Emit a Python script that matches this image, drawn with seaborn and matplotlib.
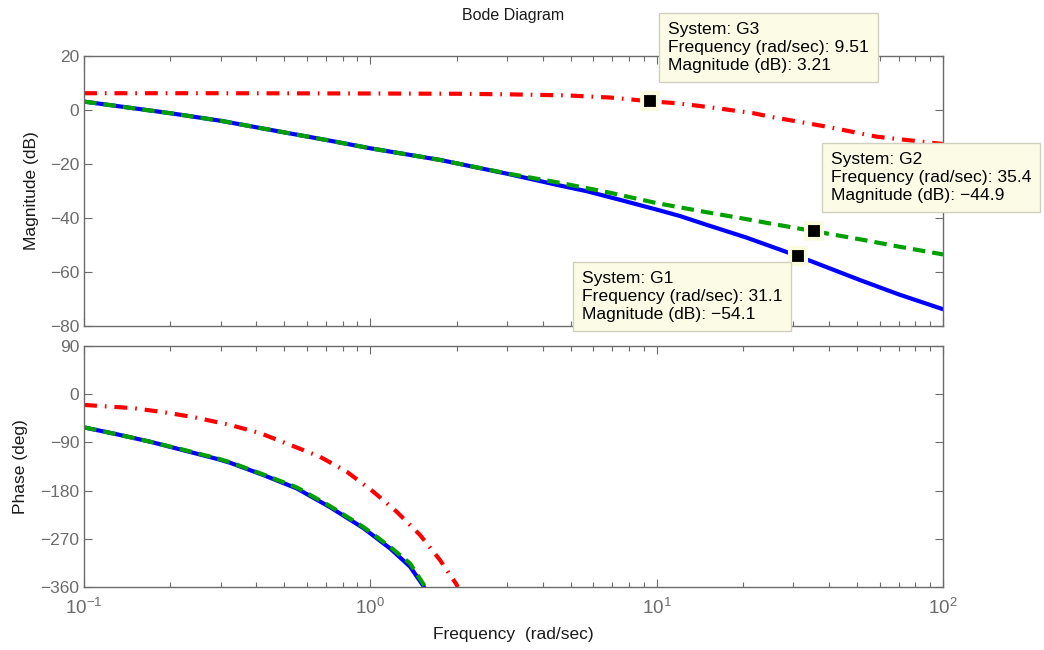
import numpy as np
import pandas as pd
import matplotlib
matplotlib.use("Agg")
import matplotlib.pyplot as plt
import matplotlib.ticker as mticker
import seaborn as sns

# Magnitude (dB)
g1_mag_w = [0.1, 0.2, 0.3, 0.5, 0.7, 1.0, 1.75, 3.0, 4.6, 5.7, 7.45, 10.0, 12.07, 15.0, 20.5, 31.1, 51.3, 70.0, 100.0]
g1_mag = [3.1, -1.2, -4.0, -8.3, -11.1, -14.2, -18.5, -23.6, -28.0, -30.1, -33.3, -36.9, -39.3, -42.6, -47.2, -54.1, -63.0, -68.3, -73.8]

g2_mag_w = [0.1, 0.2, 0.3, 0.5, 0.7, 1.0, 1.75, 3.0, 4.6, 6.9, 10.0, 15.0, 20.5, 24.2, 35.4, 51.3, 70.0, 100.0]
g2_mag = [3.1, -1.2, -4.0, -8.3, -11.1, -14.2, -18.5, -23.5, -27.0, -30.7, -34.5, -37.9, -40.4, -41.8, -44.9, -47.9, -50.6, -53.5]

g3_mag_w = [0.1, 0.3, 1.0, 2.0, 3.0, 4.85, 6.88, 9.51, 11.75, 15.37, 21.76, 24.9, 39.3, 58.7, 100.0]
g3_mag = [6.2, 6.2, 6.1, 6.0, 5.8, 5.4, 4.6, 3.21, 2.5, 1.0, -1.2, -2.5, -6.2, -9.9, -12.6]

# Phase (deg)
g1_ph_w = [0.1, 0.1307, 0.171, 0.2236, 0.2922, 0.3236, 0.423, 0.5535, 0.7231, 0.9454, 1.172, 1.376, 1.54]
g1_ph = [-62, -75, -89, -105, -121, -128, -151, -176, -211, -250, -288, -322, -360]

g2_ph_w = [0.1, 0.1307, 0.171, 0.2236, 0.2922, 0.3236, 0.423, 0.5535, 0.7231, 0.9454, 1.172, 1.376, 1.555]
g2_ph = [-62, -75, -89, -104, -120, -127, -150, -174, -209, -248, -285, -316, -360]

g3_ph_w = [0.1, 0.1495, 0.1903, 0.2423, 0.3236, 0.413, 0.5253, 0.6662, 0.8272, 1.0245, 1.2366, 1.4916, 1.752, 1.99, 2.02]
g3_ph = [-20.0, -26.2, -33.7, -43.0, -57.4, -72.9, -94.8, -116.7, -144.7, -182.2, -219.6, -263.0, -310.0, -353.5, -360]

# data tips: system, frequency, magnitude, shown texts
tip_names = ["G3", "G2", "G1"]
tip_w = [9.51, 35.4, 31.1]
tip_mag = [3.21, -44.9, -54.1]
tip_w_txt = ["9.51", "35.4", "31.1"]
tip_mag_txt = ["3.21", "\u221244.9", "\u221254.1"]

sns.set_style("ticks")
plt.rcParams["font.family"] = ["Liberation Sans", "DejaVu Sans"]
plt.rcParams["mathtext.fontset"] = "custom"
plt.rcParams["mathtext.rm"] = "Liberation Sans"
plt.rcParams["mathtext.it"] = "Liberation Sans"

grey = "#6b6b6b"
blue = "#0000ff"
green = "#00a000"
red = "#ff0000"
lw = 3.0
dash = (0, (3, 1.7))
dashdot = (0, (3.1, 1.9, 0.4, 1.9))

fig = plt.figure(figsize=(10.44, 6.5), dpi=100)
ax1 = fig.add_axes([0.0805, 0.4985, 0.8228, 0.4154])
ax2 = fig.add_axes([0.0805, 0.0969, 0.8228, 0.3708])

# magnitude
sns.lineplot(x=g1_mag_w, y=g1_mag, ax=ax1, color=blue, linewidth=lw)
sns.lineplot(x=g2_mag_w, y=g2_mag, ax=ax1, color=green, linewidth=lw, linestyle=dash)
sns.lineplot(x=g3_mag_w, y=g3_mag, ax=ax1, color=red, linewidth=lw, linestyle=dashdot)

# phase
sns.lineplot(x=g1_ph_w, y=g1_ph, ax=ax2, color=blue, linewidth=lw)
sns.lineplot(x=g2_ph_w, y=g2_ph, ax=ax2, color=green, linewidth=lw, linestyle=dash)
sns.lineplot(x=g3_ph_w, y=g3_ph, ax=ax2, color=red, linewidth=lw, linestyle=dashdot)

for ax in (ax1, ax2):
    ax.set_xscale("log")
    ax.set_xlim(0.1, 100)
    for s in ax.spines.values():
        s.set_visible(True)
        s.set_color(grey)
        s.set_linewidth(1.0)
    ax.tick_params(which="both", direction="in", top=True, right=True, colors=grey,
                   labelsize=12.5, labelcolor=grey)
    ax.tick_params(which="major", length=5.5, width=0.8)
    ax.tick_params(which="minor", length=3.5, width=0.8)
    ax.xaxis.set_minor_locator(mticker.LogLocator(base=10, subs=np.arange(2, 10)))
    ax.xaxis.set_minor_formatter(mticker.NullFormatter())
    ax.set_xlabel("")

ax1.set_ylim(-80, 20)
ax1.set_yticks([20, 0, -20, -40, -60, -80])
ax1.xaxis.set_major_formatter(mticker.NullFormatter())
ax1.set_ylabel("Magnitude (dB)", fontsize=12.5, color="#1a1a1a")
ax1.yaxis.set_label_coords(-0.052, 0.5)

ax2.set_ylim(-360, 90)
ax2.set_yticks([90, 0, -90, -180, -270, -360])
ax2.xaxis.set_major_locator(mticker.LogLocator(base=10))
ax2.xaxis.set_major_formatter(mticker.LogFormatterMathtext())
ax2.tick_params(axis="x", pad=8, labelsize=13.5)
ax2.set_ylabel("Phase (deg)", fontsize=12.5, color="#1a1a1a")
ax2.yaxis.set_label_coords(-0.065, 0.5)
ax2.set_xlabel("Frequency  (rad/sec)", fontsize=12.5, color="#1a1a1a", labelpad=6)

fig.text(0.4918, 0.976, "Bode Diagram", ha="center", va="center", fontsize=11.5, color="#1a1a1a")

# data tip markers
ax1.plot(tip_w, tip_mag, marker="s", markersize=12, markerfacecolor="black",
         markeredgecolor="#fbfbe0", markeredgewidth=3, linestyle="none",
         clip_on=False, zorder=5)

# data tip boxes (top-left corners of the text, in pixels)
box_pos = {"G3": (668, 22), "G2": (831, 152), "G1": (582, 271)}
for name, ws, ms in zip(tip_names, tip_w_txt, tip_mag_txt):
    px, py = box_pos[name]
    txt = "System: %s\nFrequency (rad/sec): %s\nMagnitude (dB): %s" % (name, ws, ms)
    fig.text(px / 1044, 1 - py / 650, txt, ha="left", va="top", fontsize=12.6,
             linespacing=1.25, color="black", zorder=10,
             bbox=dict(boxstyle="square,pad=0.5", facecolor="#fcfce6", edgecolor="#d0d0c0", linewidth=1))

fig.savefig("out.png", dpi=100)
